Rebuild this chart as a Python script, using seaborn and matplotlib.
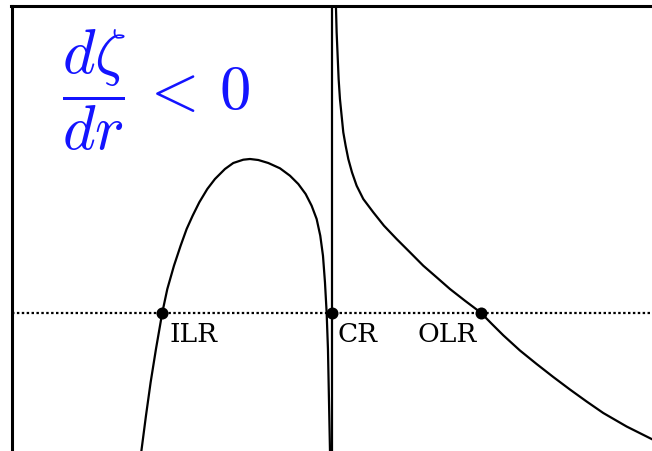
import matplotlib
matplotlib.use("Agg")
import matplotlib.pyplot as plt
import seaborn as sns
import pandas as pd

sns.set_style("white")
plt.rcParams["mathtext.fontset"] = "cm"

# Inner branch (r < CR): rises through the ILR, peaks, then plunges at CR
inner_r = [0.3984, 0.4064, 0.4199, 0.4344, 0.4510, 0.4707, 0.4863, 0.5070,
           0.5277, 0.5464, 0.5651, 0.5858, 0.6107, 0.6345, 0.6656, 0.6915,
           0.7226, 0.7434, 0.7693, 0.8004, 0.8367, 0.8678, 0.8937, 0.9166,
           0.9352, 0.9508, 0.9621, 0.9705, 0.9767, 0.9819, 0.9860, 0.9891,
           0.9922, 0.9932]
inner_v = [-1.565, -1.365, -1.032, -0.698, -0.365, 0.0, 0.235, 0.468,
           0.668, 0.835, 0.968, 1.102, 1.235, 1.335, 1.435, 1.495,
           1.528, 1.535, 1.525, 1.495, 1.442, 1.368, 1.285, 1.185,
           1.068, 0.935, 0.768, 0.568, 0.302, 0.0, -0.365, -0.865,
           -1.365, -1.565]

# Outer branch (r > CR): diverges at CR and falls through the OLR
outer_r = [1.0095, 1.0109, 1.0130, 1.0161, 1.0192, 1.0233, 1.0285, 1.0337,
           1.0410, 1.0493, 1.0607, 1.0752, 1.0959, 1.1270, 1.1602, 1.1996,
           1.2411, 1.2825, 1.3240, 1.3655, 1.4121, 1.4609, 1.4951, 1.5314,
           1.5832, 1.6351, 1.6869, 1.7387, 1.7906, 1.8424, 1.9150, 1.9927,
           2.0500]
outer_v = [3.250, 3.052, 2.802, 2.568, 2.335, 2.135, 1.968, 1.802,
           1.668, 1.535, 1.402, 1.268, 1.135, 1.002, 0.868, 0.735,
           0.602, 0.468, 0.352, 0.235, 0.118, 0.0, -0.112, -0.228,
           -0.380, -0.515, -0.645, -0.770, -0.890, -1.005, -1.140, -1.265,
           -1.350]

# Resonances on the zero line
res_names = ["ILR", "CR", "OLR"]
res_r = [0.4707, 1.0, 1.4609]
res_v = [0.0, 0.0, 0.0]
label_r = [0.492, 1.015, 1.264]

fig = plt.figure(figsize=(6.52, 4.52), dpi=100)
ax = fig.add_axes([11.5 / 652, 1 - 470 / 452, 658.5 / 652, 463 / 452])

inner = pd.DataFrame({"r": inner_r, "v": inner_v})
outer = pd.DataFrame({"r": outer_r, "v": outer_v})
sns.lineplot(data=inner, x="r", y="v", sort=False, color="black", lw=1.6, ax=ax)
sns.lineplot(data=outer, x="r", y="v", sort=False, color="black", lw=1.6, ax=ax)

ax.axhline(0, color="black", lw=1.6, linestyle=(0, (1.1, 1.1)), zorder=1)
ax.axvline(res_r[1], color="black", lw=1.6, zorder=2)

res = pd.DataFrame({"r": res_r, "v": res_v})
sns.scatterplot(data=res, x="r", y="v", color="black", s=75, edgecolor="black",
                linewidth=0, zorder=5, ax=ax)

for name, lr in zip(res_names, label_r):
    ax.text(lr, -0.085, name, fontsize=19, family="DejaVu Serif",
            ha="left", va="top", color="black")

ax.text(0.158, 2.23, r"$\dfrac{d\zeta}{dr}\,<\,0$", fontsize=45, color="#1414ff",
        ha="left", va="center")

ax.set_xlim(0.0016, 2.05)
ax.set_ylim(-1.565, 3.065)
ax.set_xticks([])
ax.set_yticks([])
ax.set_xlabel("")
ax.set_ylabel("")
for side in ax.spines.values():
    side.set_color("black")
    side.set_linewidth(2.2)

fig.savefig("out.png", dpi=100)
